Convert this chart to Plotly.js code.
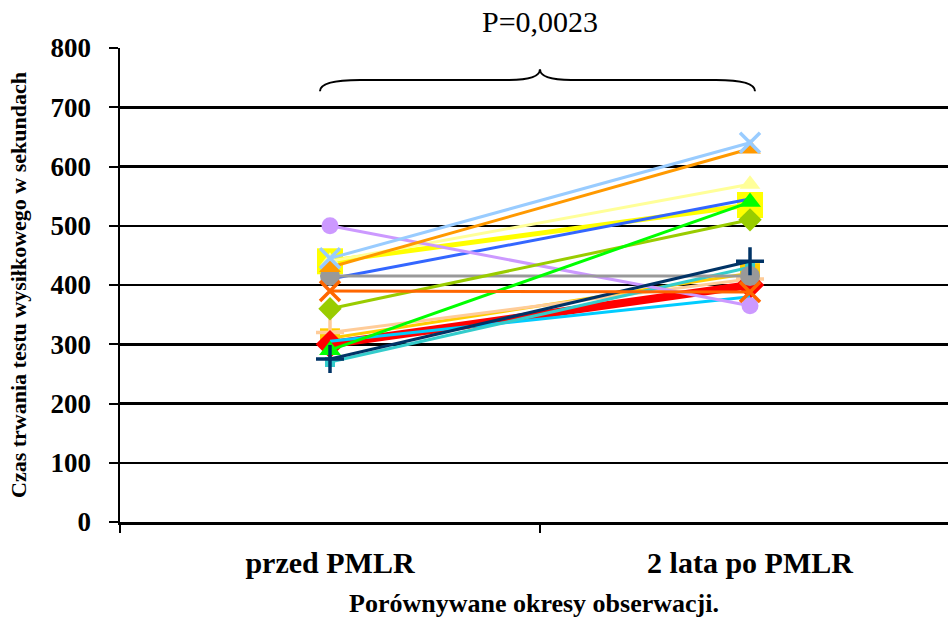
<!DOCTYPE html>
<html>
<head>
<meta charset="utf-8">
<script src="https://cdn.plot.ly/plotly-3.0.1.min.js"></script>
<style>html,body{margin:0;padding:0;background:#fff;}#chart{width:948px;height:618px;}</style>
</head>
<body>
<div id="chart"></div>
<script>
// ---- data ----
const categories = ["przed PMLR", "2 lata po PMLR"];
const seriesNames = ["P1","P2","P3","P4","P5","P6","P7","P8","P9","P10","P11","P12","P13","P14","P15","P16"];
const before = [440, 440, 310, 320, 300, 305, 270, 410, 500, 415, 360, 430, 445, 290, 275, 390];
const after  = [535, 570, 420, 410, 400, 380, 430, 545, 365, 415, 510, 630, 640, 540, 440, 388];
const yTicks = [0, 100, 200, 300, 400, 500, 600, 700, 800];
const pValueText = "P=0,0023";

// ---- styles ----
const colors  = ["#FFFF00","#FFFF99","#FFCC00","#FFCC99","#FF0000","#00CCFF","#33CCCC","#3366FF","#CC99FF","#999999","#99CC00","#FF9900","#99CCFF","#00FF00","#003366","#FF6600"];
const symbols = ["square","triangle-up","square","cross-thin","diamond",null,"square",null,"circle","circle","diamond","triangle-up","x-thin","triangle-up","cross-thin","x-thin"];
const msizes  = [26, 18, 20, 20, 22, 0, 10, 0, 17, 20, 18, 19, 20, 19, 20, 20];
const lwidths = [5, 3, 3, 3, 8, 3, 3, 3, 3, 3, 3, 3, 3, 3, 3, 3];

const traces = seriesNames.map((n, i) => {
  const t = {
    type: "scatter",
    name: n,
    x: categories,
    y: [before[i], after[i]],
    mode: symbols[i] ? "lines+markers" : "lines",
    line: {color: colors[i], width: lwidths[i]},
    hoverinfo: "x+y"
  };
  if (symbols[i]) {
    const thin = symbols[i].indexOf("thin") >= 0;
    t.marker = {
      symbol: symbols[i], size: msizes[i], color: colors[i],
      line: {color: colors[i], width: thin ? 3.5 : 0}
    };
  }
  return t;
});

const serif = "Liberation Serif, Times New Roman, serif";
const layout = {
  width: 948, height: 618,
  margin: {l: 120, r: 0, t: 48, b: 96},
  paper_bgcolor: "#fff", plot_bgcolor: "#fff",
  showlegend: false,
  font: {family: serif, color: "#000"},
  xaxis: {
    type: "category",
    range: [-0.5, 1.4714],
    showline: true, linecolor: "#000", linewidth: 2.5,
    ticks: "outside", tickson: "boundaries", ticklen: 8, tickwidth: 2, tickcolor: "#000",
    showgrid: false, zeroline: false,
    tickfont: {family: serif, size: 30, color: "#000", weight: "bold"},
    ticklabelstandoff: 12,
    title: {text: "<b>Porównywane okresy obserwacji.</b>", font: {family: serif, size: 26, color: "#000"}, standoff: 18}
  },
  yaxis: {
    range: [0, 800],
    tickvals: yTicks,
    showline: true, linecolor: "#000", linewidth: 2.5,
    ticks: "outside", ticklen: 9, tickwidth: 2, tickcolor: "#000",
    showgrid: true, gridcolor: "#000", gridwidth: 2.5,
    zeroline: false,
    tickfont: {family: serif, size: 27, color: "#000", weight: "bold"},
    ticklabelstandoff: 12,
    title: {text: "<b>Czas trwania testu wysiłkowego w sekundach</b>", font: {family: serif, size: 22, color: "#000"}, standoff: 18}
  },
  annotations: [{
    text: pValueText, xref: "paper", yref: "paper", x: 0.5072, y: 1.0549,
    xanchor: "center", yanchor: "middle", showarrow: false,
    font: {family: serif, size: 30, color: "#000"}
  }],
  shapes: [{
    type: "path", xref: "paper", yref: "y",
    path: "M 0.2415,727 Q 0.2415,746 0.29,746 L 0.47,746 Q 0.5072,746 0.5072,764 Q 0.5072,746 0.545,746 L 0.72,746 Q 0.7669,746 0.7669,727",
    line: {color: "#000", width: 2}
  }]
};

Plotly.newPlot("chart", traces, layout, {displayModeBar: false, staticPlot: true});
</script>
</body>
</html>
